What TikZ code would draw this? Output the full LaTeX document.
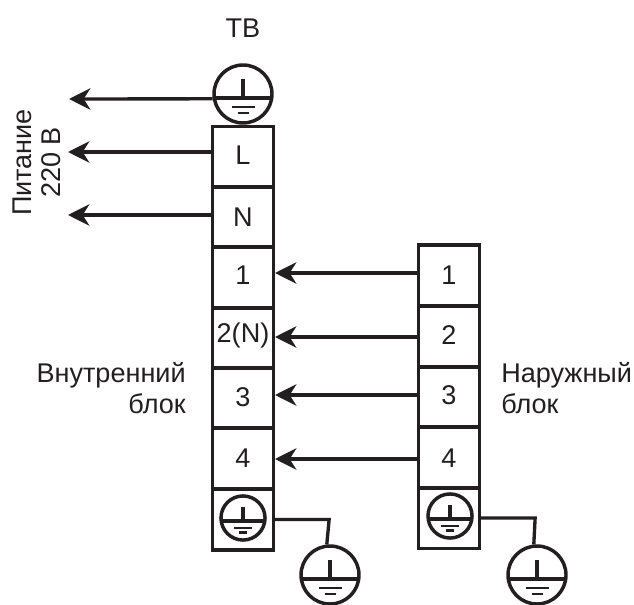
\documentclass[tikz,border=0pt]{standalone}
\usepackage{fontspec}
\setmainfont{Liberation Sans}
\usetikzlibrary{arrows.meta}
\definecolor{ink}{HTML}{231F20}

\tikzset{
  cell/.style={draw,line width=2.7pt,minimum width=45.5pt,minimum height=45.5pt,inner sep=0pt},
  term/.style={inner sep=0pt,font=\fontsize{20.3}{24}\selectfont},
  gnd/.style={draw,circle,line width=2.6pt,inner sep=0pt},
  wire/.style={line width=2.5pt},
  lead/.style={line width=2.5pt,-{Stealth[length=16pt,width=16pt,inset=5pt]}},
}
\newcommand{\gndmark}[4]{%
  \node[gnd,minimum size=#4*43.5pt] (#1) at (#2,#3) {};
  \begin{scope}[shift={(#2,#3)},scale=#4]
    \draw[wire] (0,-15) -- (0,4);
    \draw[wire] (-28,4) -- (28,4);
    \draw[line width=2pt] (-11.5,13) -- (11.5,13);
    \draw[line width=2pt] (-5.5,19) -- (5.5,19);
  \end{scope}}

\begin{document}
\begin{tikzpicture}[x=0.75pt,y=-0.75pt,color=ink]
\useasboundingbox (0,0) rectangle (634,605);
% terminal strips
\node[cell] (cL) at (243,157) {};
\node[cell] (cN) at (243,217) {};
\node[cell] (c1) at (243,277.5) {};
\node[cell] (c2) at (243,338) {};
\node[cell] (c3) at (243,398) {};
\node[cell] (c4) at (243,458.5) {};
\node[cell] (c5) at (243,519.5) {};
\node[cell] (o1) at (449,275.5) {};
\node[cell] (o2) at (449,336.5) {};
\node[cell] (o3) at (449,397) {};
\node[cell] (o4) at (449,457.5) {};
\node[cell] (o5) at (449,518) {};
\node[term] at (243,155) {L};
\node[term] at (243,217) {N};
\node[term] at (243,275) {1};
\node[term] at (243,335) {2(N)};
\node[term] at (243,397) {3};
\node[term] at (243,458) {4};
\node[term] at (449,275) {1};
\node[term] at (449,335) {2};
\node[term] at (449,395) {3};
\node[term] at (449,458) {4};
% earth symbols
\gndmark{gT}{243}{94}{1}
\gndmark{gC}{243}{518}{0.76}
\gndmark{gO}{450}{516}{0.76}
\gndmark{gA}{330}{575}{1}
\gndmark{gB}{537}{575}{1}
% arrow ends
\coordinate (tT) at (69,99);
\coordinate (tL) at (68,152);
\coordinate (tN) at (68,215);
\coordinate (t1) at (275,273);
\coordinate (t2) at (275,337);
\coordinate (t3) at (275,395);
\coordinate (t4) at (275,459);
\draw[lead] (gT.189) -- (tT);
\draw[lead] (tL -| cL.west) -- (tL);
\draw[lead] (tN -| cN.west) -- (tN);
\draw[lead] (t1 -| o1.west) -- (t1);
\draw[lead] (t2 -| o2.west) -- (t2);
\draw[lead] (t3 -| o3.west) -- (t3);
\draw[lead] (t4 -| o4.west) -- (t4);
\draw[wire] (c5.east) -- ++(54,0) -- (gA.96);
\draw[wire] (o5.east) -- ++(54,0) -- (gB.96);
% labels
\node[term] at (243,28) {ТВ};
\node[term,anchor=base east] at (186,382) {Внутренний};
\node[term,anchor=base east] at (186,413) {блок};
\node[term,anchor=base west] at (501,382) {Наружный};
\node[term,anchor=base west] at (501,413) {блок};
\node[term,rotate=90,anchor=base] at (31,162.5) {Питание};
\node[term,rotate=90,anchor=base] at (60,162.5) {220 В};
\end{tikzpicture}
\end{document}
